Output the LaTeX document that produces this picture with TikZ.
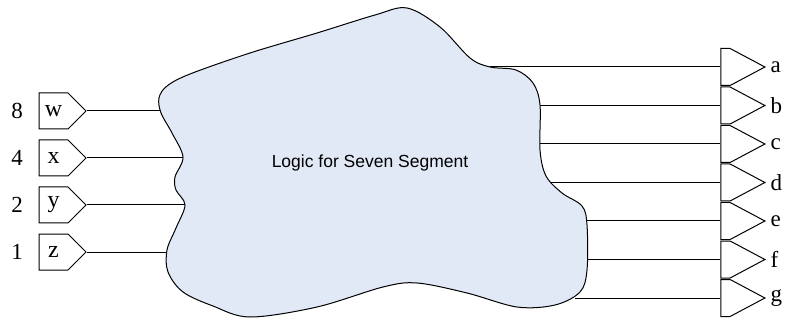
\documentclass[tikz,border=0pt]{standalone}
\usepackage{fontspec}
\setmainfont{Liberation Serif}
\newfontfamily\blobfont{Liberation Sans}
\usetikzlibrary{shapes.symbols}
\definecolor{blobfill}{RGB}{226,233,246}
\begin{document}
\begin{tikzpicture}[x=1pt, y=-1pt, line width=1pt,
  every node/.style={font=\fontsize{23}{23}\selectfont},
  inpin/.style={draw, signal, signal to=east, signal pointer angle=90, minimum width=47pt, minimum height=36pt, inner sep=0pt, font=\fontsize{24}{24}\selectfont},
  outpin/.style={draw, signal, signal to=east, signal pointer angle=56, minimum width=44pt, minimum height=37pt, inner sep=0pt}]
\useasboundingbox (0,0) rectangle (786,320);
% the logic blob
\draw[fill=blobfill] plot[smooth cycle, tension=0.55] coordinates {
  (407,8) (440,27) (470,58) (490,67) (516,70) (533,83) (540,105) (540,150)
  (546,176) (562,193) (582,206) (587,225) (587,270) (580,292) (555,305) (517,307)
  (467,293) (417,283) (383,287) (317,307) (250,317) (213,306) (183,292) (168,272)
  (167,250) (176,228) (185,205) (176,190) (175,177) (183,157) (172,133) (161,113)
  (159,98) (167,86) (190,74) (250,53) (317,33) (375,15)};
\node[font=\blobfont\fontsize{17.5}{17.5}\selectfont] (logic) at (370,163) {Logic for Seven Segment};
% inputs
\foreach \name/\weight/\y/\xend in {w/8/111/161, x/4/158/183, y/2/205/185, z/1/252/167} {
  \node[inpin] (in-\name) at (53.5,\y) {\name};
  \node (wt-\name) at (17,\y) {\weight};
  \coordinate (end-\name) at (\xend,\y);
  \draw (in-\name.east) -- (end-\name);
}
% outputs
\foreach \name/\y/\xstart in {a/67/490, b/105.5/540, c/144/540, d/182.5/550, e/221/587, f/259.5/587, g/298/575} {
  \node[outpin] (out-\name) at (725.5,\y) {};
  \node[anchor=west, inner sep=0pt] (lb-\name) at (770,\y) {\name};
  \coordinate (start-\name) at (\xstart,\y);
  \draw (start-\name) -- (out-\name.west);
}
\end{tikzpicture}
\end{document}
